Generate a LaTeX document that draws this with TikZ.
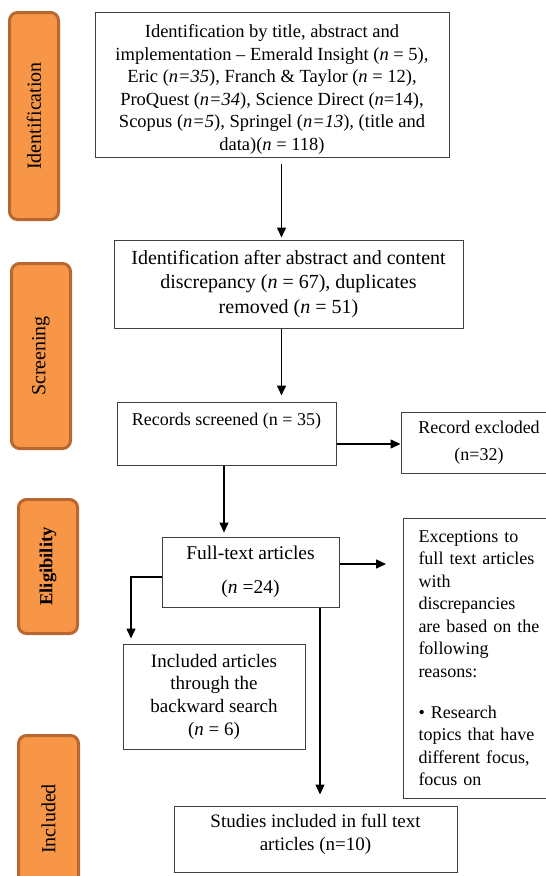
\documentclass[tikz,border=0pt]{standalone}
\usepackage{fontspec}
\setmainfont{Liberation Serif}
\usetikzlibrary{arrows.meta}
\definecolor{stagefill}{HTML}{F79646}
\definecolor{stageedge}{HTML}{B8672F}
\definecolor{boxline}{HTML}{3F3F3F}

\begin{document}
\begin{tikzpicture}[x=1pt,y=-1pt]
\tikzset{
% orange stage tabs on the left, plain boxes of the flow
stage/.style={draw=stageedge,fill=stagefill,line width=3pt,rounded corners=8pt,rotate=90,inner sep=0pt,font=\fontsize{20}{24}\selectfont},
box/.style={draw=boxline,line width=1pt,inner sep=0pt,align=center},
flow/.style={line width=1.5pt,-{Triangle[width=9pt,length=10pt]}}
}
\useasboundingbox (0,0) rectangle (546,876);

% Stages
\node(s1)[stage,minimum width=207,minimum height=49] at (34,116) {Identification};
\node(s2)[stage,minimum width=185,minimum height=59] at (41,356) {Screening};
\node(s3)[stage,minimum width=134,minimum height=59,font=\fontsize{18.5}{22}\selectfont\bfseries] at (48,566.5) {Eligibility};
\node(s4)[stage,minimum width=167,minimum height=60] at (48.5,819) {Included};

% The boxes
\node(b1)[box,minimum width=354,minimum height=145,font=\fontsize{18.5}{22.5}\selectfont] at (272,84.5) {\rule{0pt}{23pt}Identification by title, abstract and\\
implementation -- Emerald Insight (\textit{n} = 5),\\
Eric (\textit{n=35}), Franch \& Taylor (\textit{n} = 12),\\
ProQuest (\textit{n=34}), Science Direct (\textit{n}=14),\\
Scopus (\textit{n=5}), Springel (\textit{n=13}), (title and\\
data)(\textit{n} = 118)};
\node(b2)[box,minimum width=349,minimum height=88,font=\fontsize{20}{24.5}\selectfont] at (288.5,284) {Identification after abstract and content\\
discrepancy (\textit{n} = 67), duplicates\\
removed (\textit{n} = 51)};
\node(b3)[box,minimum width=219,minimum height=63,font=\fontsize{18}{22}\selectfont] at (226.5,433.5) {Records screened (n = 35)\\ \strut};
\node(b4)[box,minimum width=156,minimum height=61,font=\fontsize{18}{27}\selectfont] at (479,442.5) {Record excloded\\(n=32)};
\node(b5)[box,minimum width=177,minimum height=70,font=\fontsize{19.5}{34}\selectfont] at (250.5,572) {Full-text articles\\(\textit{n} =24)};
\node(b6)[box,anchor=west,align=left,inner xsep=15pt,text width=140pt,minimum height=280,font=\fontsize{18}{22.5}\selectfont] at (403,658) {Exceptions to\\
full text articles\\
with\\
discrepancies\\
are based on the\\
following\\
reasons:\\[18.5pt]
\textbullet{} Research\\
topics that have\\
different focus,\\
focus on};
\node(b7)[box,minimum width=182,minimum height=105,font=\fontsize{19}{22.7}\selectfont] at (214,696.5) {Included articles\\
through the\\
backward search\\
(\textit{n} = 6)};
\node(b8)[box,minimum width=283,minimum height=66,font=\fontsize{19}{23}\selectfont] at (315.5,839) {Studies included in full text\\
articles (n=10)\rule[-13pt]{0pt}{13pt}};

% Arrows
\draw[flow] ([xshift=9.5pt,yshift=-6pt]b1.south) -- ([xshift=-7pt,yshift=2pt]b2.north);
\draw[flow] ([xshift=-7pt]b2.south) -- ([xshift=55pt,yshift=6pt]b3.north);
\draw[flow] ([yshift=-10.5pt]b3.east) -- ([yshift=-1.5pt]b4.west);
\draw[flow] ([xshift=-2.5pt]b3.south) -- ([xshift=-26.5pt,yshift=4pt]b5.north);
\draw[flow] ([yshift=8pt]b5.east) -- ([xshift=-17pt,yshift=94pt]b6.west);
\draw[flow] ([yshift=-5pt]b5.west) -| ([xshift=-83pt,yshift=5pt]b7.north);
\draw[flow] ([xshift=69.5pt]b5.south) -- ([xshift=4.5pt,yshift=11pt]b8.north);
\end{tikzpicture}
\end{document}
